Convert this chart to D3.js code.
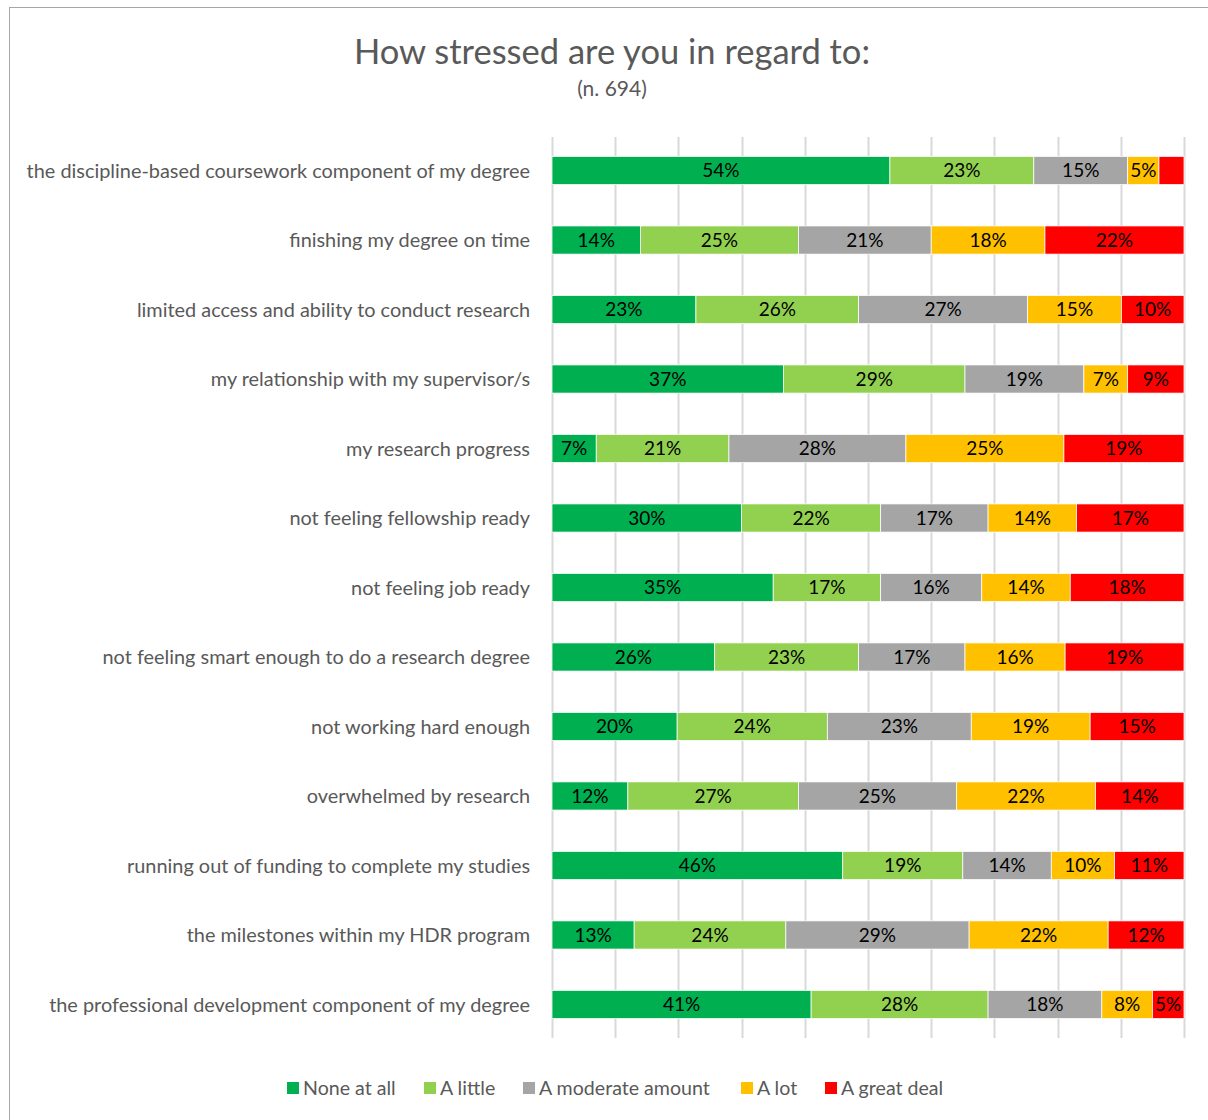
<!DOCTYPE html>
<html>
<head>
<meta charset="utf-8">
<script src="https://cdn.jsdelivr.net/npm/d3@7"></script>
<style>
  html, body { margin: 0; padding: 0; background: #fff; }
  svg text { font-family: Lato, "Open Sans", sans-serif; }
</style>
</head>
<body>
<svg id="chart" width="1208" height="1120"></svg>
<script>
const categories = [
  "the discipline-based coursework component of my degree",
  "finishing my degree on time",
  "limited access and ability to conduct research",
  "my relationship with my supervisor/s",
  "my research progress",
  "not feeling fellowship ready",
  "not feeling job ready",
  "not feeling smart enough to do a research degree",
  "not working hard enough",
  "overwhelmed by research",
  "running out of funding to complete my studies",
  "the milestones within my HDR program",
  "the professional development component of my degree"
];
const seriesNames = ["None at all", "A little", "A moderate amount", "A lot", "A great deal"];
const seriesColors = ["#00B050", "#92D050", "#A5A5A5", "#FFC000", "#FF0000"];
const noneAtAll   = [54, 14, 23, 37,  7, 30, 35, 26, 20, 12, 46, 13, 41];
const aLittle     = [23, 25, 26, 29, 21, 22, 17, 23, 24, 27, 19, 24, 28];
const moderate    = [15, 21, 27, 19, 28, 17, 16, 17, 23, 25, 14, 29, 18];
const aLot        = [ 5, 18, 15,  7, 25, 14, 14, 16, 19, 22, 10, 22,  8];
const greatDeal   = [ 4, 22, 10,  9, 19, 17, 18, 19, 15, 14, 11, 12,  5];
const xTicks = [0, 0.1, 0.2, 0.3, 0.4, 0.5, 0.6, 0.7, 0.8, 0.9, 1];

const svg = d3.select("#chart");

// outer chart border
svg.append("rect").attr("x", 9.5).attr("y", 7.5).attr("width", 1220).attr("height", 1130)
  .attr("fill", "none").attr("stroke", "#A6A6A6").attr("stroke-width", 1);

// title
svg.append("text").attr("x", 612).attr("y", 63.5).attr("text-anchor", "middle")
  .attr("font-size", 34.5).attr("fill", "#595959").text("How stressed are you in regard to:");
svg.append("text").attr("x", 612).attr("y", 96).attr("text-anchor", "middle")
  .attr("font-size", 21).attr("fill", "#595959").text("(n. 694)");

const x = d3.scaleLinear().domain([0, 1]).range([552, 1184]);
const y = d3.scaleBand().domain(categories).range([137, 1038]).paddingInner(0.595).paddingOuter(0.28);

// gridlines
svg.append("g").selectAll("line").data(xTicks).join("line")
  .attr("x1", d => Math.round(x(d)) + 0.5).attr("x2", d => Math.round(x(d)) + 0.5)
  .attr("y1", 137).attr("y2", 1038)
  .attr("stroke", "#D9D9D9").attr("stroke-width", 2);

// stacking
const rows = categories.map((c, i) => {
  const vals = [noneAtAll[i], aLittle[i], moderate[i], aLot[i], greatDeal[i]];
  const total = d3.sum(vals);
  const obj = { cat: c };
  seriesNames.forEach((s, j) => { obj[s] = vals[j] / total; obj["raw_" + s] = vals[j]; });
  return obj;
});
const stack = d3.stack().keys(seriesNames)(rows);

const gBars = svg.append("g");
stack.forEach((layer, j) => {
  const g = gBars.append("g");
  g.selectAll("rect").data(layer).join("rect")
    .attr("x", d => x(d[0]))
    .attr("width", d => x(d[1]) - x(d[0]))
    .attr("y", d => y(d.data.cat))
    .attr("height", y.bandwidth())
    .attr("fill", seriesColors[j])
    .attr("stroke", "#fff").attr("stroke-width", 0.75);
  g.selectAll("text").data(layer.filter(d => d.data["raw_" + layer.key] >= 5)).join("text")
    .attr("x", d => (x(d[0]) + x(d[1])) / 2)
    .attr("y", d => y(d.data.cat) + y.bandwidth() / 2)
    .attr("dy", "0.36em")
    .attr("text-anchor", "middle")
    .attr("font-size", 19)
    .attr("fill", "#000")
    .text(d => d.data["raw_" + layer.key] + "%");
});

// category labels
svg.append("g").selectAll("text").data(categories).join("text")
  .attr("x", 530).attr("y", d => y(d) + y.bandwidth() / 2).attr("dy", "0.36em")
  .attr("text-anchor", "end").attr("font-size", 19.9).attr("fill", "#595959")
  .text(d => d);

// legend
const legendX = [287, 424, 523, 741, 825];
const lg = svg.append("g");
seriesNames.forEach((s, j) => {
  lg.append("rect").attr("x", legendX[j]).attr("y", 1082).attr("width", 12).attr("height", 12)
    .attr("fill", seriesColors[j]);
  lg.append("text").attr("x", legendX[j] + 16).attr("y", 1088).attr("dy", "0.36em")
    .attr("font-size", 19.6).attr("fill", "#595959").text(s);
});
</script>
</body>
</html>
